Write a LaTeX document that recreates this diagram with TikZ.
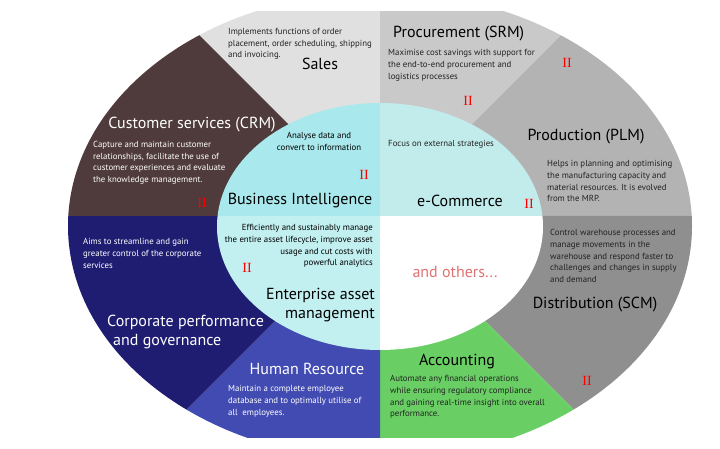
\documentclass[tikz,border=0pt]{standalone}
\usepackage{fontspec}
\setmainfont{PT Sans}
\newfontfamily\romfont{Liberation Serif}
\definecolor{csales}{HTML}{E0E0E0}
\definecolor{cproc}{HTML}{C9C9C9}
\definecolor{cprod}{HTML}{B3B3B3}
\definecolor{cdist}{HTML}{8F8F8F}
\definecolor{cacc}{HTML}{69CF64}
\definecolor{chr}{HTML}{414BB1}
\definecolor{ccorp}{HTML}{1F1D72}
\definecolor{ccust}{HTML}{4F3B3B}
\definecolor{cbi}{HTML}{A9E8EC}
\definecolor{cecom}{HTML}{C2ECEC}
\definecolor{ceam}{HTML}{C2EFF0}
\definecolor{cothers}{HTML}{E07272}
\definecolor{dtext}{HTML}{222222}
\begin{document}
\begin{tikzpicture}[x=1pt,y=-1pt,
  title/.style={font=\fontsize{16}{19}\selectfont, inner sep=0pt},
  desc/.style={font=\fontsize{8.8}{11.6}\selectfont, align=left, inner sep=0pt, anchor=north west},
  twoi/.style={font=\romfont\fontsize{14}{14}\selectfont, text=red, inner sep=0pt}]
\useasboundingbox (0,0) rectangle (720,449);
\fill[white] (0,0) rectangle (720,449);
\coordinate (O) at (380,216);
\begin{scope}
  \clip (0,12) rectangle (720,437);
  \clip (380,226) ellipse [x radius=312, y radius=234];
  \fill[csales] (O) -- (380,-384) -- (-220,-384) -- cycle;
  \fill[cproc] (O) -- (380,-384) -- (980,-384) -- cycle;
  \fill[cprod] (O) -- (980,-384) -- (980,216) -- cycle;
  \fill[cdist] (O) -- (980,216) -- (980,816) -- cycle;
  \fill[cacc] (O) -- (980,816) -- (380,816) -- cycle;
  \fill[chr] (O) -- (380,816) -- (-220,816) -- cycle;
  \fill[ccorp] (O) -- (-220,816) -- (-220,216) -- cycle;
  \fill[ccust] (O) -- (-220,216) -- (-220,-384) -- cycle;
\end{scope}
\begin{scope}
  \clip (380,226.5) ellipse [x radius=163, y radius=123.5];
  \fill[cbi] (O) rectangle (200,80);
  \fill[cecom] (O) rectangle (560,80);
  \fill[ceam] (O) rectangle (200,370);
  \fill[white] (O) rectangle (560,370);
\end{scope}
% Sales
\node[desc, text=dtext] (salesd) at (228,28) {Implements functions of order\\placement, order scheduling, shipping\\and invoicing.};
\node[title, text=black] (sales) at (320,64) {Sales};
% Customer
\node[title, text=white] (cust) at (192,125) {Customer services (CRM)};
\node[desc, text=white] (custd) at (93,141) {Capture and maintain customer\\relationships, facilitate the use of\\customer experiences and evaluate\\the knowledge management.};
\node[twoi] (ii1) at (202,203) {II};
% BI
\node[font=\fontsize{8.8}{11.6}\selectfont, align=center, inner sep=0pt] (bid) at (319,141.5) {Analyse data and\\convert to information};
\node[twoi] (ii2) at (364,175) {II};
\node[title, text=black] (bi) at (300,201) {Business Intelligence};
% Procurement
\node[title, text=black, anchor=west] (proc) at (393,34) {Procurement (SRM)};
\node[desc, text=dtext] (procd) at (388,49.5) {Maximise cost savings with support for\\the end-to-end procurement and\\logistics processes};
\node[twoi] (ii3) at (468,101) {II};
\node[twoi] (ii4) at (567,63) {II};
% e-Commerce
\node[desc, text=dtext] (ecomd) at (388,140.5) {Focus on external strategies};
\node[title, text=black] (ecom) at (460,201) {e-Commerce};
\node[twoi] (ii5) at (529,204) {II};
% Production
\node[title, text=black] (prod) at (586,137) {Production (PLM)};
\node[desc, text=dtext] (prodd) at (547,160.5) {Helps in planning and optimising\\the manufacturing capacity and\\material resources. It is evolved\\from the MRP.};
% Corporate
\node[desc, text=white] (corpd) at (83,238.5) {Aims to streamline and gain\\greater control of the corporate\\services};
\node[title, text=white, anchor=west] (corp1) at (107,322) {Corporate performance};
\node[title, text=white, anchor=west] (corp2) at (113,342) {and governance};
% EAM
\node[font=\fontsize{8.8}{11.6}\selectfont, align=right, inner sep=0pt, anchor=north east] (eamd) at (373,224.5) {Efficiently and sustainably manage\\the entire asset lifecycle, improve asset\\usage and cut costs with\\powerful analytics};
\node[twoi] (ii6) at (247,268) {II};
\node[title, text=black, align=right, anchor=east, font=\fontsize{16}{19}\selectfont] (eam) at (375,305.5) {Enterprise asset\\management};
% others
\node[title, text=cothers] (others) at (455,272) {and others...};
% Distribution
\node[desc, text=dtext] (distd) at (550,229.5) {Control warehouse processes and\\manage movements in the\\warehouse and respond faster to\\challenges and changes in supply\\and demand};
\node[title, text=black] (dist) at (595,305) {Distribution (SCM)};
\node[twoi] (ii7) at (587,381) {II};
% Accounting
\node[title, text=black] (acc) at (457,362) {Accounting};
\node[desc, text=dtext] (accd) at (390,375.5) {Automate any financial operations\\while ensuring regulatory compliance\\and gaining real-time insight into overall\\performance.};
% HR
\node[title, text=white] (hr) at (307,369) {Human Resource};
\node[desc, text=white] (hrd) at (228,385.5) {Maintain a complete employee\\database and to optimally utilise of\\all\ \ employees.};
\end{tikzpicture}
\end{document}
